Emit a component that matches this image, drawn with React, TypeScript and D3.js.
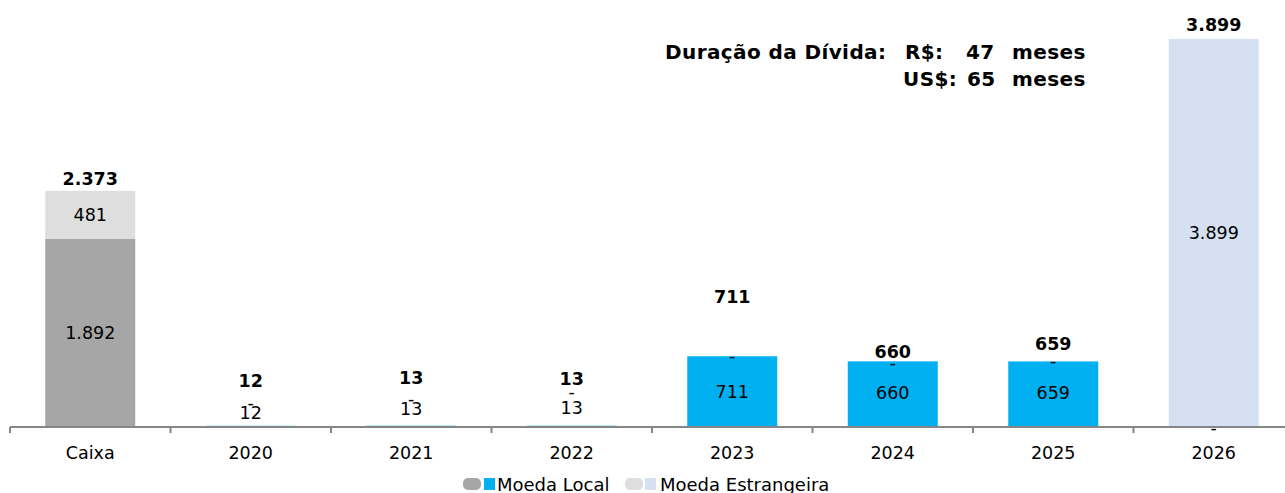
import React from "react";
import * as d3 from "d3";

const categories = ["Caixa", "2020", "2021", "2022", "2023", "2024", "2025", "2026"];
const localValues = [1892, 12, 13, 13, 711, 660, 659, 0];
const foreignValues = [481, 0, 0, 0, 0, 0, 0, 3899];
const totalValues = [2373, 12, 13, 13, 711, 660, 659, 3899];
const localColors = ["#a6a6a6", "#00b0f0", "#00b0f0", "#00b0f0", "#00b0f0", "#00b0f0", "#00b0f0", "#00b0f0"];
const foreignColors = ["#dedede", "#d5e1f2", "#d5e1f2", "#d5e1f2", "#d5e1f2", "#d5e1f2", "#d5e1f2", "#d5e1f2"];
const legendLabels = ["Moeda Local", "Moeda Estrangeira"];

// label nudges (pixels), styling only
const localNudge = [0, -13, -17, -18, 0, -1, -1, 1];
const foreignNudge = [0, -23, -27, -34, 0, 2, 0, 0];
const totalGap = [12, 45, 48, 47, 59, 9, 17, 14];

const W = 1285;
const H = 493;
const axisY = 427;
const left = 10;
const step = 160.5;

const fmt = (v: number) => (v === 0 ? "-" : d3.format(",")(v).replace(/,/g, "."));

export default function App() {
  const x = d3
    .scaleBand<string>()
    .domain(categories)
    .range([left, left + step * categories.length])
    .paddingInner(70.5 / 160.5)
    .paddingOuter(70.5 / 160.5 / 2);
  const y = d3.scaleLinear().domain([0, 3899]).range([axisY, 39]);
  const bw = x.bandwidth();
  const font = "'DejaVu Sans', Tahoma, Verdana, sans-serif";

  return (
    <svg
      width={W}
      height={H}
      style={{ position: "absolute", left: 0, top: 0, background: "#fff" }}
      fontFamily={font}
    >
      {categories.map((c, i) => {
        const x0 = x(c)!;
        const cx = x0 + bw / 2;
        const lTop = y(localValues[i]);
        const fTop = y(localValues[i] + foreignValues[i]);
        const lMid = (axisY + lTop) / 2 + localNudge[i];
        const fMid = (lTop + fTop) / 2 + foreignNudge[i];
        const tY = y(totalValues[i]) - totalGap[i];
        return (
          <g key={c}>
            {localValues[i] > 0 && (
              <rect x={x0} y={lTop} width={bw} height={axisY - lTop} fill={localColors[i]} />
            )}
            {foreignValues[i] > 0 && (
              <rect x={x0} y={fTop} width={bw} height={lTop - fTop} fill={foreignColors[i]} />
            )}
            <text x={cx} y={lMid} textAnchor="middle" dominantBaseline="central" fontSize={17.5} fill="#000">
              {fmt(localValues[i])}
            </text>
            <text x={cx} y={fMid} textAnchor="middle" dominantBaseline="central" fontSize={17.5} fill="#000">
              {fmt(foreignValues[i])}
            </text>
            <text
              x={cx}
              y={tY}
              textAnchor="middle"
              dominantBaseline="central"
              fontSize={17.5}
              fontWeight="bold"
              fill="#000"
            >
              {fmt(totalValues[i])}
            </text>
            <text x={cx} y={453} textAnchor="middle" dominantBaseline="central" fontSize={17.5} fill="#000">
              {c}
            </text>
          </g>
        );
      })}
      <line x1={left} x2={W} y1={axisY} y2={axisY} stroke="#868686" strokeWidth={2} />
      {d3.range(categories.length + 1).map((i) => (
        <line
          key={i}
          x1={left + i * step}
          x2={left + i * step}
          y1={axisY}
          y2={433}
          stroke="#868686"
          strokeWidth={2}
        />
      ))}
      <g fontWeight="bold" fontSize={20} fill="#000" letterSpacing={0.4}>
        <text x={665} y={59}>Duração da Dívida:</text>
        <text x={905} y={59}>R$:</text>
        <text x={966} y={59}>47</text>
        <text x={1012} y={59}>meses</text>
        <text x={903} y={86}>US$:</text>
        <text x={967} y={86}>65</text>
        <text x={1012} y={86}>meses</text>
      </g>
      <g fontSize={18} fill="#000">
        <rect x={463} y={478} width={18} height={12} rx={5} fill={localColors[0]} />
        <rect x={484} y={478} width={11} height={12} fill={localColors[1]} />
        <text x={497} y={491}>{legendLabels[0]}</text>
        <rect x={625} y={478} width={18} height={12} rx={5} fill={foreignColors[0]} />
        <rect x={645} y={478} width={11} height={12} fill={foreignColors[1]} />
        <text x={660} y={491}>{legendLabels[1]}</text>
      </g>
    </svg>
  );
}
